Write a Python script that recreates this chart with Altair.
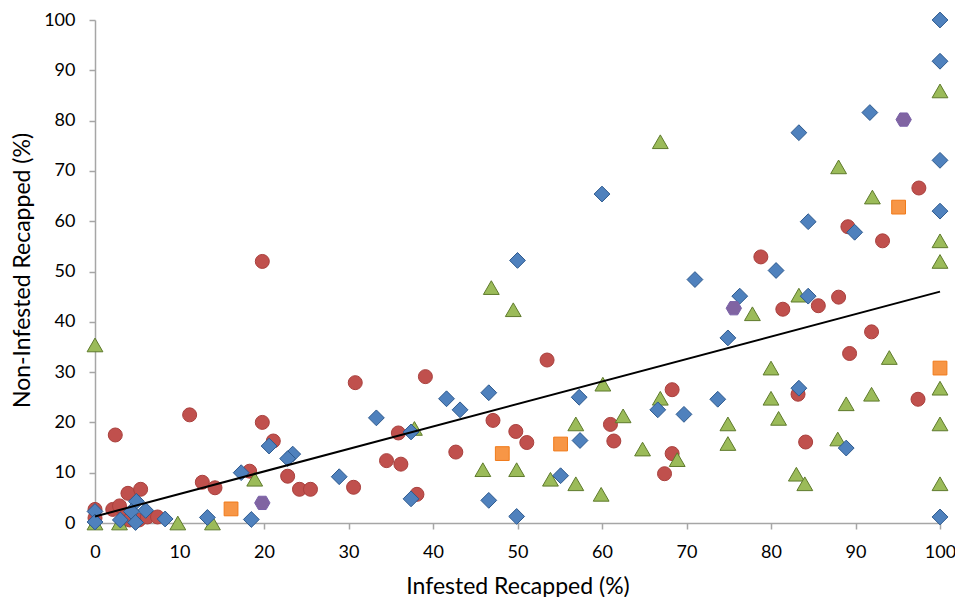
import altair as alt
import pandas as pd

# ---- data ----
red_x = [97.5, 93.2, 89.1, 78.8, 81.4, 85.6, 88.0, 91.9, 89.3, 68.3, 84.1, 83.2, 97.4, 68.3, 67.4,
         30.8, 39.1, 53.5, 47.1, 49.8, 51.1, 61.0, 61.4, 35.9, 34.5, 36.2, 42.7, 30.6, 38.1,
         2.4, 11.2, 19.8, 21.1, 18.3, 12.7, 14.2, 22.8, 24.2, 25.5, 3.9, 5.4, 2.1, 2.9, 0.0,
         3.5, 4.1, 5.2, 6.2, 7.4, 19.8, 0.0]
red_y = [66.6, 56.1, 58.9, 52.9, 42.5, 43.2, 44.9, 38.0, 33.7, 26.5, 16.1, 25.6, 24.6, 13.8, 9.8,
         27.9, 29.1, 32.4, 20.4, 18.2, 16.0, 19.6, 16.3, 17.9, 12.4, 11.7, 14.1, 7.1, 5.7,
         17.5, 21.5, 20.0, 16.3, 10.3, 8.1, 7.0, 9.3, 6.7, 6.7, 5.9, 6.7, 2.7, 3.4, 2.7,
         1.2, 0.6, 0.6, 1.2, 1.2, 52.0, 1.0]

green_x = [100, 66.9, 88.0, 92.0, 100, 100, 83.3, 46.9, 49.5, 60.1, 62.5, 56.9, 37.8, 64.8,
           45.9, 49.9, 53.9, 56.9, 59.9, 77.8, 94.0, 80.0, 100, 91.9, 88.9, 66.9, 80.0, 80.9,
           74.9, 100, 74.9, 87.9, 68.9, 83.0, 84.0, 100, 0.0, 18.9, 9.8, 13.9, 2.9, 0.0]
green_y = [85.9, 75.8, 70.8, 64.8, 56.1, 52.0, 45.3, 46.8, 42.4, 27.6, 21.3, 19.7, 18.8, 14.7,
           10.6, 10.6, 8.7, 7.8, 5.7, 41.6, 32.9, 30.8, 26.8, 25.6, 23.7, 24.8, 24.8, 20.8,
           19.7, 19.7, 15.8, 16.7, 12.6, 9.7, 7.8, 7.8, 35.4, 8.7, 0.0, 0.0, 0.0, 0.0]

blue_x = [100, 100, 100, 100, 100, 91.7, 83.3, 60.0, 84.4, 89.9, 80.6, 50.0, 71.0, 76.3, 84.4,
          74.9, 41.6, 43.2, 33.3, 46.6, 57.3, 57.4, 66.6, 69.7, 73.7, 83.3, 88.9, 55.1, 46.6,
          49.9, 37.4, 37.4, 28.9, 23.4, 22.8, 20.6, 17.3, 18.5, 13.3, 8.3, 6.0, 4.9, 4.3, 4.8,
          3.0, 0.0, 0.0]
blue_y = [100, 91.8, 72.1, 62.0, 1.2, 81.6, 77.6, 65.4, 59.9, 57.8, 50.2, 52.2, 48.4, 45.1, 45.1,
          36.8, 24.7, 22.5, 20.9, 25.9, 25.0, 16.4, 22.5, 21.6, 24.6, 26.8, 14.9, 9.4, 4.5,
          1.3, 4.8, 18.1, 9.2, 13.7, 12.8, 15.3, 10.0, 0.7, 1.1, 0.8, 2.5, 4.3, 2.3, 0.1,
          0.6, 2.3, 0.2]

orange_x = [16.1, 48.2, 55.1, 95.1, 100]
orange_y = [2.8, 13.8, 15.7, 62.8, 30.8]

purple_x = [19.8, 75.6, 95.7]
purple_y = [4.0, 42.7, 80.2]

trend_x = [0, 100]
trend_y = [1.3, 46.0]

tick_values = [0, 10, 20, 30, 40, 50, 60, 70, 80, 90, 100]

# ---- chart ----
FONT = "Lato"
GRAY = "#A6A6A6"
HEXAGON = "M-1,0L-0.5,-0.866L0.5,-0.866L1,0L0.5,0.866L-0.5,0.866Z"

x_enc = alt.X("x:Q", scale=alt.Scale(domain=[0, 100], nice=False, zero=False),
              axis=alt.Axis(values=tick_values, title="Infested Recapped (%)",
                            labelFlush=False, labelPadding=14,
                            titleY=63, titleBaseline="middle"))
y_enc = alt.Y("y:Q", scale=alt.Scale(domain=[0, 100], nice=False, zero=False),
              axis=alt.Axis(values=tick_values, title="Non-Infested Recapped (%)",
                            labelFlush=False, labelPadding=14,
                            titleX=-73, titleY=250, titleAngle=-90,
                            titleAlign="center", titleBaseline="middle"))


def series(xs, ys, shape, size, fill, stroke):
    df = pd.DataFrame({"x": xs, "y": ys})
    return alt.Chart(df).mark_point(shape=shape, size=size, filled=True, fill=fill,
                                    stroke=stroke, strokeWidth=1, opacity=1,
                                    fillOpacity=1).encode(x=x_enc, y=y_enc)


layers = [
    series(red_x, red_y, "circle", 196, "#C0504D", "#A9403D"),
    series(green_x, green_y, "triangle-up", 250, "#9BBB59", "#5E7A2C"),
    series(blue_x, blue_y, "diamond", 250, "#4F81BD", "#2E5A8E"),
    series(orange_x, orange_y, "square", 190, "#F79646", "#F07A1A"),
    series(purple_x, purple_y, HEXAGON, 235, "#8064A2", "#7A62A8"),
]

trend = alt.Chart(pd.DataFrame({"x": trend_x, "y": trend_y})).mark_line(
    color="black", strokeWidth=2).encode(x=x_enc, y=y_enc)

chart = alt.layer(*layers, trend).properties(
    width=845, height=503,
    autosize=alt.AutoSizeParams(type="none"),
    padding={"left": 87, "top": 12, "right": 15, "bottom": 74},
    background="white",
).configure_view(stroke=None).configure_axis(
    grid=False, domainColor=GRAY, domainWidth=1.5, tickColor=GRAY, tickWidth=1.5,
    tickSize=6, labelFont=FONT, labelFontSize=18, labelColor="#000000",
    titleFont=FONT, titleFontSize=23, titleFontWeight="normal", titleColor="#000000",
)

chart.save("out.html", embed_options={"renderer": "svg", "actions": False})
